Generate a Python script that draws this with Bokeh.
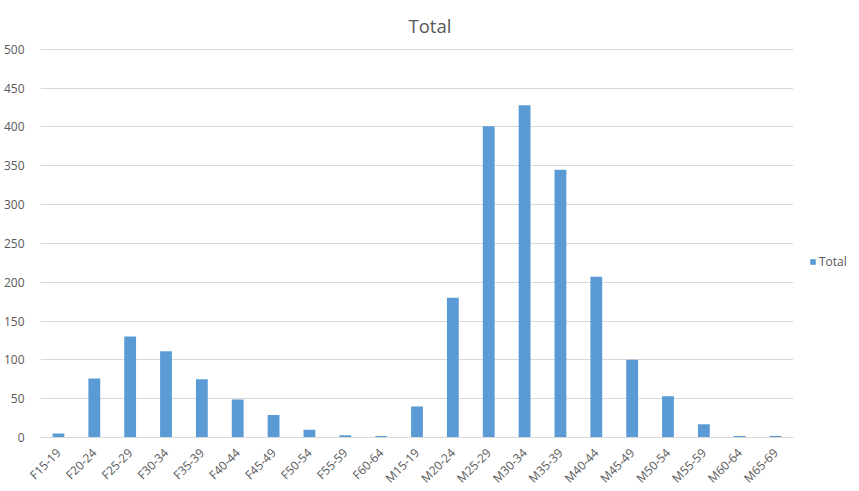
from bokeh.plotting import figure
from bokeh.models import ColumnDataSource, Legend, LegendItem, Title, FixedTicker, Range1d
from bokeh.embed import file_html
from bokeh.resources import INLINE
import math

categories = ["F15-19", "F20-24", "F25-29", "F30-34", "F35-39", "F40-44", "F45-49",
              "F50-54", "F55-59", "F60-64", "M15-19", "M20-24", "M25-29", "M30-34",
              "M35-39", "M40-44", "M45-49", "M50-54", "M55-59", "M60-64", "M65-69"]
totals = [5, 76, 130, 111, 75, 49, 29, 10, 3, 2,
          40, 180, 401, 428, 345, 207, 100, 53, 17, 2, 2]
y_ticks = [0, 50, 100, 150, 200, 250, 300, 350, 400, 450, 500]

FONT = "Open Sans"
GREY = "#595959"

src = ColumnDataSource(dict(cat=categories, total=totals))

p = figure(x_range=categories, y_range=Range1d(0, 501),
           frame_width=753, frame_height=389, output_backend="svg", toolbar_location=None,
           min_border_left=30, min_border_right=10, min_border_top=48, min_border_bottom=46)
p.x_range.range_padding = 0

r = p.vbar(x="cat", top="total", width=0.33, source=src, color="#5b9bd5", line_color=None)

p.title = Title(text="Total", align="left", offset=368, standoff=21, text_font=FONT,
                text_font_size="18.5px", text_font_style="normal", text_color=GREY)

p.outline_line_color = None
p.xgrid.grid_line_color = None
p.ygrid.grid_line_color = "#d9d9d9"
p.ygrid.grid_line_width = 1

p.yaxis.ticker = FixedTicker(ticks=y_ticks)
p.yaxis.axis_line_color = None
p.yaxis.major_tick_line_color = None
p.yaxis.minor_tick_line_color = None
p.yaxis.major_label_text_font = FONT
p.yaxis.major_label_text_font_size = "12px"
p.yaxis.major_label_text_color = GREY
p.yaxis.major_label_standoff = 10

p.xaxis.axis_line_color = "#d9d9d9"
p.xaxis.major_tick_line_color = None
p.xaxis.minor_tick_line_color = None
p.xaxis.major_label_orientation = math.pi / 4
p.xaxis.major_label_text_font = FONT
p.xaxis.major_label_text_font_size = "12px"
p.xaxis.major_label_text_color = GREY
p.xaxis.major_label_standoff = 7

legend = Legend(items=[LegendItem(label="Total", renderers=[r])],
                location=(16, 167), border_line_color=None, background_fill_alpha=0,
                label_text_font=FONT, label_text_font_size="12px", label_text_color=GREY,
                glyph_width=7, glyph_height=7, label_standoff=3, padding=0, margin=0)
p.add_layout(legend, "right")

open("out.html", "w").write(file_html(p, INLINE))
